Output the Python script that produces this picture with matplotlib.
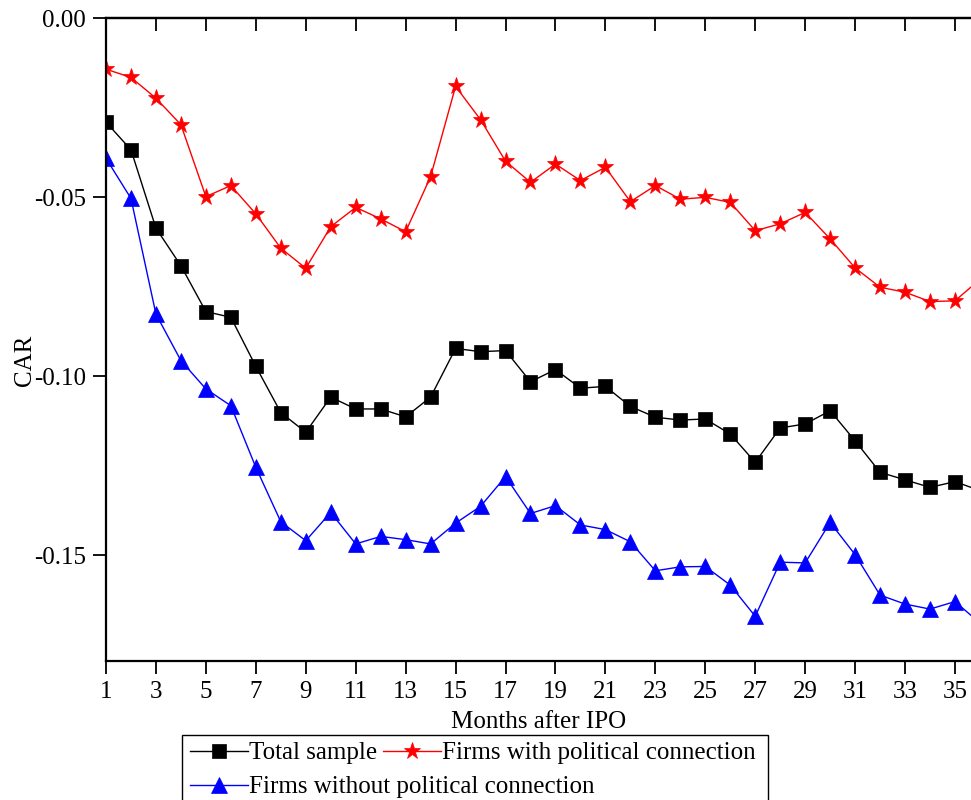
import matplotlib
matplotlib.use("Agg")
import matplotlib.pyplot as plt
from matplotlib.lines import Line2D
from matplotlib.patches import Rectangle
from matplotlib.ticker import FormatStrFormatter

plt.rcParams['font.family'] = ['Liberation Serif', 'DejaVu Serif']
plt.rcParams['axes.unicode_minus'] = False

months = list(range(1, 37))

total_sample = [
    -0.0291, -0.0368, -0.0587, -0.0692, -0.0820, -0.0836, -0.0973, -0.1102, -0.1157,
    -0.1059, -0.1092, -0.1092, -0.1114, -0.1059, -0.0923, -0.0932, -0.0929, -0.1016,
    -0.0982, -0.1034, -0.1029, -0.1085, -0.1115, -0.1123, -0.1120, -0.1162, -0.1241,
    -0.1145, -0.1134, -0.1097, -0.1181, -0.1269, -0.1290, -0.1311, -0.1295, -0.1320,
]

with_connection = [
    -0.0143, -0.0166, -0.0224, -0.0298, -0.0499, -0.0468, -0.0547, -0.0643, -0.0699,
    -0.0583, -0.0529, -0.0561, -0.0597, -0.0443, -0.0191, -0.0284, -0.0400, -0.0459,
    -0.0408, -0.0454, -0.0417, -0.0513, -0.0468, -0.0506, -0.0501, -0.0515, -0.0594,
    -0.0575, -0.0543, -0.0617, -0.0698, -0.0752, -0.0766, -0.0792, -0.0790, -0.0730,
]

without_connection = [
    -0.0392, -0.0504, -0.0827, -0.0957, -0.1036, -0.1083, -0.1255, -0.1407, -0.1460,
    -0.1381, -0.1469, -0.1448, -0.1457, -0.1469, -0.1411, -0.1364, -0.1281, -0.1384,
    -0.1362, -0.1416, -0.1429, -0.1463, -0.1544, -0.1533, -0.1532, -0.1584, -0.1671,
    -0.1520, -0.1522, -0.1409, -0.1499, -0.1612, -0.1637, -0.1651, -0.1630, -0.1690,
]

x_ticks = list(range(1, 36, 2))
y_ticks = [0.00, -0.05, -0.10, -0.15]

labels = ["Total sample", "Firms with political connection", "Firms without political connection"]

W, H = 971, 800
fig = plt.figure(figsize=(W / 100, H / 100), dpi=100)
ax = fig.add_axes([106 / W, 1 - 661 / H, 1 - 106 / W, (661 - 18) / H])

FS = 18

l_total, = ax.plot(months, total_sample, color='black', lw=1.0, marker='s', ms=9.4,
                   mec='black', mew=0.5, label=labels[0])
l_with, = ax.plot(months, with_connection, color='#ff0000', lw=1.0, marker='*', ms=12.5,
                  mec='#ff0000', mew=0.5, label=labels[1])
l_without, = ax.plot(months, without_connection, color='#0000ff', lw=1.0, marker='^', ms=11.5,
                     mec='#0000ff', mew=0.5, label=labels[2])

ax.set_xlim(1, 1 + (W - 106) / 24.97)
ax.set_ylim(-0.1796, 0.0)
ax.set_xticks(x_ticks)
ax.set_yticks(y_ticks)
ax.yaxis.set_major_formatter(FormatStrFormatter('%.2f'))

for s in ['left', 'bottom', 'top']:
    ax.spines[s].set_linewidth(1.6)
ax.spines['right'].set_visible(False)

ax.tick_params(axis='both', which='major', direction='out', length=9.5, width=1.3,
               labelsize=FS, pad=5)

sec = ax.secondary_xaxis('top')
sec.set_xticks(x_ticks)
sec.tick_params(direction='in', length=9.5, width=1.3, labeltop=False)
sec.spines['top'].set_linewidth(1.6)

ax.set_xlabel("Months after IPO", fontsize=FS)
ax.set_ylabel("CAR", fontsize=FS)
ax.xaxis.set_label_coords(0.5, (661 - 722) / 643)
ax.xaxis.label.set_va('center')
ax.yaxis.set_label_coords((25 - 106) / 865, (661 - 360) / 643)
ax.yaxis.label.set_va('center')

leg_kw = dict(frameon=False, fontsize=FS, handlelength=2.3, handletextpad=0.05,
              columnspacing=0.25, borderpad=0, borderaxespad=0, loc='center left',
              bbox_transform=fig.transFigure)
leg1 = fig.legend(handles=[l_total, l_with], labels=labels[:2], ncol=2,
                  bbox_to_anchor=(190 / W, 1 - 753 / H), **leg_kw)
leg2 = fig.legend(handles=[l_without], labels=labels[2:], ncol=1,
                  bbox_to_anchor=(190 / W, 1 - 787 / H), **leg_kw)

fig.patches.append(Rectangle((182 / W, -0.02), (768 - 182) / W, 0.02 + (1 - 735 / H),
                             transform=fig.transFigure, fill=False, edgecolor='black',
                             linewidth=1.0))

fig.savefig("out.png", dpi=100)
